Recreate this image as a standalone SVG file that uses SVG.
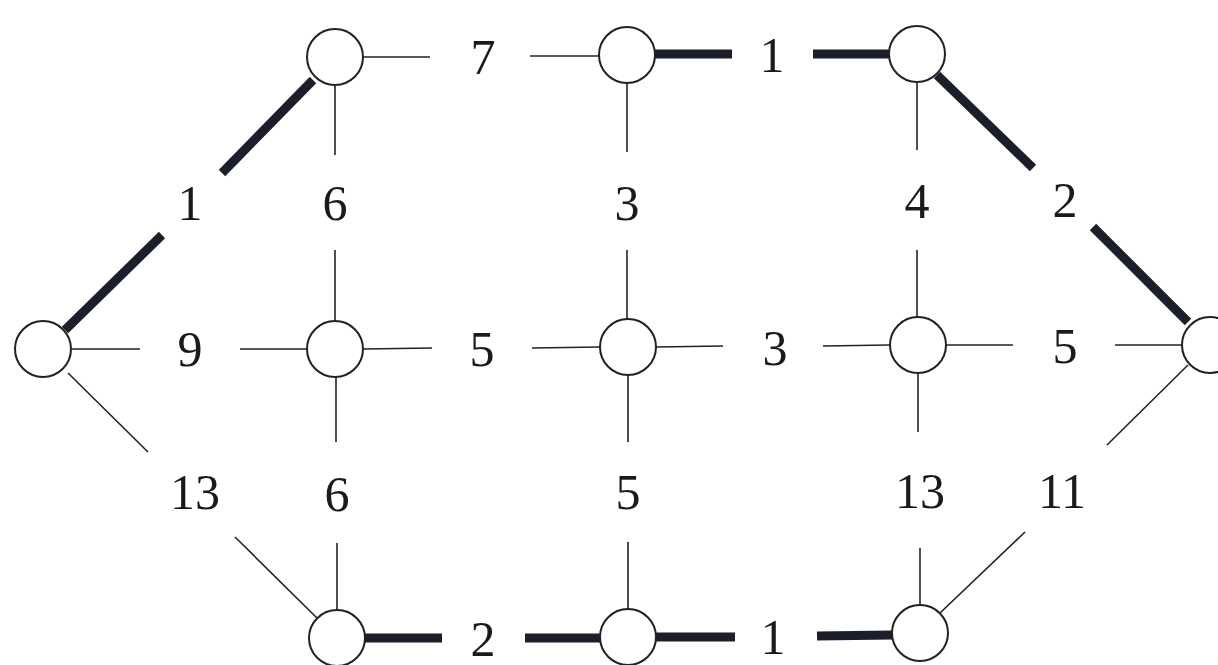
<svg xmlns="http://www.w3.org/2000/svg" width="1218" height="665" viewBox="0 0 1218 665">
<style>
.t{stroke:#222;stroke-width:1.6;fill:none}
.k{stroke:#1c1f2a;stroke-width:9;fill:none}
.n{fill:#fff;stroke:#222;stroke-width:2}
text{font-family:"Liberation Serif","DejaVu Serif",serif;font-size:50px;fill:#1a1a1a;text-anchor:middle}
</style>
<rect width="1218" height="665" fill="#fff"/>
<g id="connectors">
<g id="e-L-T1"><line class="k" x1="65" y1="330" x2="162" y2="235"/><line class="k" x1="222" y1="173" x2="313" y2="80"/><text x="190" y="220">1</text></g>
<g id="e-L-M1"><line class="t" x1="72" y1="349" x2="140" y2="349"/><line class="t" x1="240" y1="349" x2="307" y2="349"/><text x="190" y="366">9</text></g>
<g id="e-L-B1"><line class="t" x1="68" y1="373" x2="148" y2="452"/><line class="t" x1="235" y1="537" x2="317" y2="618"/><text x="195" y="509">13</text></g>
<g id="e-T1-T2"><line class="t" x1="363" y1="57" x2="430" y2="57"/><line class="t" x1="530" y1="56" x2="599" y2="56"/><text x="483" y="74">7</text></g>
<g id="e-T1-M1"><line class="t" x1="335" y1="85" x2="335" y2="155"/><line class="t" x1="335" y1="250" x2="335" y2="321"/><text x="335" y="220">6</text></g>
<g id="e-T2-T3"><line class="k" x1="655" y1="54" x2="732" y2="54"/><line class="k" x1="813" y1="54" x2="889" y2="54"/><text x="772" y="72">1</text></g>
<g id="e-T2-M2"><line class="t" x1="627" y1="83" x2="627" y2="152"/><line class="t" x1="627" y1="250" x2="627" y2="319"/><text x="627" y="220">3</text></g>
<g id="e-T3-M3"><line class="t" x1="917" y1="82" x2="917" y2="150"/><line class="t" x1="917" y1="250" x2="917" y2="317"/><text x="917" y="218">4</text></g>
<g id="e-T3-R"><line class="k" x1="937" y1="75" x2="1033" y2="168"/><line class="k" x1="1093" y1="227" x2="1188" y2="322"/><text x="1065" y="217">2</text></g>
<g id="e-M1-M2"><line class="t" x1="363" y1="349" x2="432" y2="348"/><line class="t" x1="532" y1="348" x2="600" y2="347"/><text x="482" y="366">5</text></g>
<g id="e-M1-B1"><line class="t" x1="336" y1="377" x2="336" y2="442"/><line class="t" x1="337" y1="543" x2="337" y2="610"/><text x="337" y="511">6</text></g>
<g id="e-M2-M3"><line class="t" x1="656" y1="347" x2="723" y2="346"/><line class="t" x1="823" y1="346" x2="890" y2="345"/><text x="775" y="365">3</text></g>
<g id="e-M2-B2"><line class="t" x1="628" y1="375" x2="628" y2="442"/><line class="t" x1="628" y1="542" x2="628" y2="609"/><text x="628" y="509">5</text></g>
<g id="e-M3-R"><line class="t" x1="946" y1="345" x2="1013" y2="345"/><line class="t" x1="1115" y1="345" x2="1182" y2="345"/><text x="1065" y="363">5</text></g>
<g id="e-M3-B3"><line class="t" x1="918" y1="373" x2="918" y2="432"/><line class="t" x1="920" y1="548" x2="920" y2="605"/><text x="920" y="508">13</text></g>
<g id="e-R-B3"><line class="t" x1="1188" y1="365" x2="1107" y2="445"/><line class="t" x1="1025" y1="532" x2="940" y2="613"/><text x="1062" y="508">11</text></g>
<g id="e-B1-B2"><line class="k" x1="365" y1="638" x2="442" y2="638"/><line class="k" x1="525" y1="638" x2="600" y2="638"/><text x="483" y="656">2</text></g>
<g id="e-B2-B3"><line class="k" x1="656" y1="637" x2="735" y2="637"/><line class="k" x1="817" y1="636" x2="892" y2="635"/><text x="773" y="654">1</text></g>
</g>
<g id="node-L"><circle class="n" cx="43" cy="349" r="28"/></g>
<g id="node-T1"><circle class="n" cx="335" cy="57" r="28"/></g>
<g id="node-T2"><circle class="n" cx="627" cy="55" r="28"/></g>
<g id="node-T3"><circle class="n" cx="917" cy="54" r="28"/></g>
<g id="node-M1"><circle class="n" cx="335" cy="349" r="28"/></g>
<g id="node-M2"><circle class="n" cx="628" cy="347" r="28"/></g>
<g id="node-M3"><circle class="n" cx="918" cy="345" r="28"/></g>
<g id="node-R"><circle class="n" cx="1210" cy="345" r="28"/></g>
<g id="node-B1"><circle class="n" cx="337" cy="638" r="28"/></g>
<g id="node-B2"><circle class="n" cx="628" cy="637" r="28"/></g>
<g id="node-B3"><circle class="n" cx="920" cy="633" r="28"/></g>
</svg>
